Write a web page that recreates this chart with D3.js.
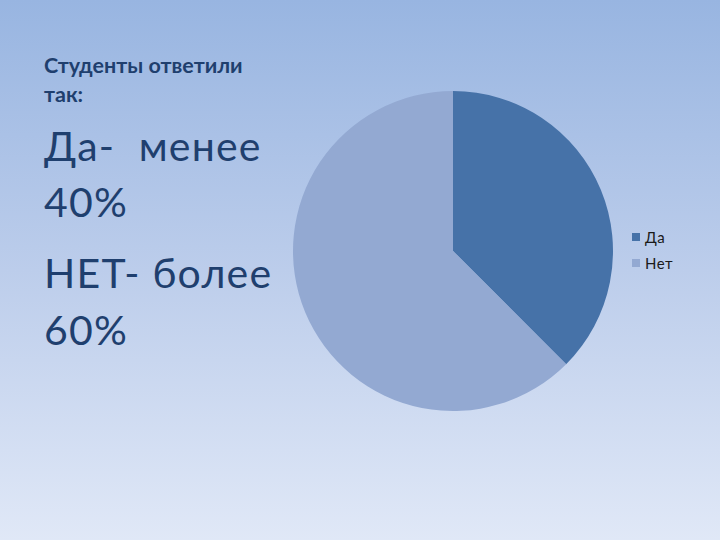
<!DOCTYPE html>
<html><head><meta charset="utf-8">
<script src="https://cdn.jsdelivr.net/npm/d3@7"></script>
<style>html,body{margin:0;padding:0;overflow:hidden;}</style>
</head><body>
<svg id="chart" width="720" height="540"></svg>
<script>
const categories = ["Да", "Нет"];
const values = [37.5, 62.5];
const colors = ["#4672a8", "#93a9d2"];
const titleLines = ["Студенты ответили", "так:"];
const bigLines = ["Да-  менее", "40%", "НЕТ- более", "60%"];

const svg = d3.select("#chart");
const defs = svg.append("defs");
const grad = defs.append("linearGradient").attr("id","bg").attr("x1",0).attr("y1",0).attr("x2",0).attr("y2",1);
grad.append("stop").attr("offset","0%").attr("stop-color","#98b5e1");
grad.append("stop").attr("offset","50%").attr("stop-color","#bccdeb");
grad.append("stop").attr("offset","100%").attr("stop-color","#e0e8f7");
svg.append("rect").attr("width",720).attr("height",540).attr("fill","url(#bg)");

const textColor = "#1f3f6e";
const font = "Lato, 'Open Sans', sans-serif";

// title
const tb = [73, 102];
titleLines.forEach((t,i)=>{
  svg.append("text").attr("x",44).attr("y",tb[i]).text(t)
    .attr("font-family",font).attr("font-weight","bold").attr("font-size",21.5)
    .attr("fill",textColor);
});
const bb = [161, 217, 288, 345];
bigLines.forEach((t,i)=>{
  svg.append("text").attr("x",44).attr("y",bb[i]).text(t).attr("xml:space","preserve")
    .style("white-space","pre")
    .attr("font-family",font).attr("font-size",41).attr("letter-spacing",1.2)
    .attr("fill",textColor);
});

// pie
const cx = 453, cy = 251, r = 160;
const pie = d3.pie().sort(null).value(d=>d)(values);
const arc = d3.arc().innerRadius(0).outerRadius(r);
const g = svg.append("g").attr("transform",`translate(${cx},${cy})`);
g.selectAll("path").data(pie).join("path")
  .attr("d",arc).attr("fill",(d,i)=>colors[i]);

// legend
const lg = svg.append("g");
categories.forEach((c,i)=>{
  const y = 233 + i*26;
  lg.append("rect").attr("x",632).attr("y",y).attr("width",8).attr("height",8).attr("fill",colors[i]);
  lg.append("text").attr("x",645).attr("y",y+10).text(c)
    .attr("font-family",font).attr("font-size",15).attr("letter-spacing",0.5).attr("fill","#1a1a1a");
});
</script>
</body></html>
